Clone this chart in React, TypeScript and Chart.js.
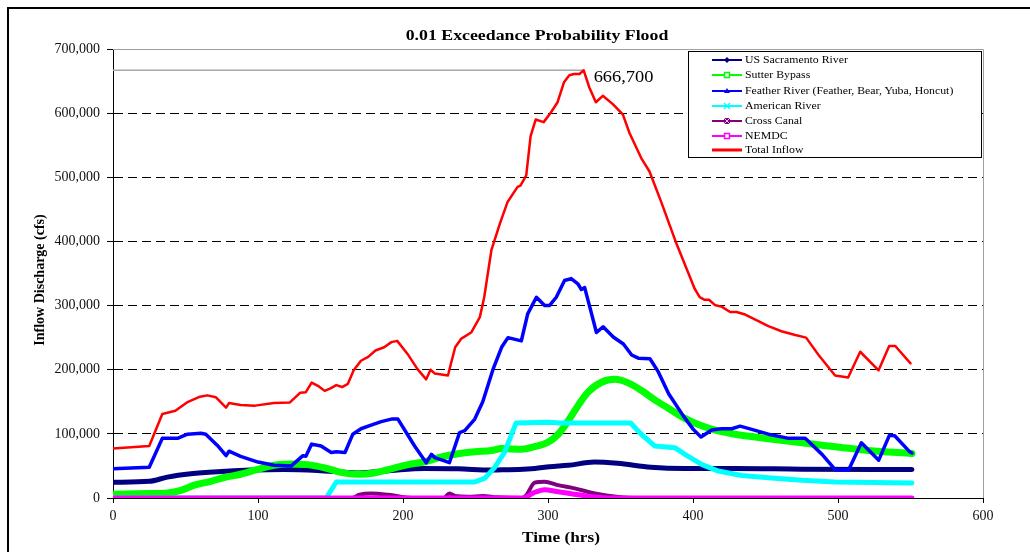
import React, { useEffect, useRef } from "react";
import { Chart, registerables } from "chart.js";

Chart.register(...registerables);

// ---------- text ----------
const CHART_TITLE = "0.01 Exceedance Probability Flood";
const X_TITLE = "Time (hrs)";
const Y_TITLE = "Inflow Discharge (cfs)";
const PEAK_LABEL = "666,700";

// ---------- axes ----------
const X_MIN = 0;
const X_MAX = 600;
const X_STEP = 100;
const Y_MIN = 0;
const Y_MAX = 700000;
const Y_STEP = 100000;

// ---------- series (hours, cfs) ----------
const sacHrs = [0, 25, 37.5, 53.7, 72, 95, 118, 141, 169, 192, 215, 238, 261, 268, 280, 291, 301, 314, 332, 348, 371, 394, 429, 475, 551];
const sacCfs = [24600, 26000, 32500, 37700, 41000, 43500, 44500, 43000, 39000, 43000, 46000, 45500, 43500, 44000, 44500, 46000, 48700, 51000, 56000, 54000, 48000, 46000, 46000, 45000, 44500];

const sutterHrs = [0, 25, 37.5, 46.8, 56, 67.5, 76.7, 88, 99.8, 111, 122.8, 134, 146, 157, 169, 180, 192, 203.5, 215, 226.5, 238, 249.5, 261, 268, 281.6, 290.8, 300, 306.9, 313.8, 320.7, 327.6, 336.9, 346, 355.3, 364.5, 373.7, 382.9, 394.4, 405.9, 417.4, 428.9, 451.9, 475, 498, 521, 551];
const sutterCfs = [6000, 7000, 8000, 12000, 20000, 26000, 32000, 37000, 44500, 51000, 53000, 52000, 47000, 40000, 37000, 39000, 45500, 52000, 56500, 64000, 69000, 72000, 74000, 77000, 76000, 80000, 87000, 99000, 120000, 144000, 165000, 180500, 185000, 179500, 167500, 153000, 140000, 124000, 112500, 104500, 99400, 92500, 86000, 80000, 74000, 69500];

const featherHrs = [0, 25, 34, 44.5, 51.4, 60.6, 64, 72, 78, 80, 88, 100, 111, 123, 131, 133, 137, 143.5, 150.5, 154, 160, 165.4, 171, 178, 185, 192, 196.5, 208, 216, 219.6, 222, 232, 239, 242.6, 249.5, 255, 262, 268, 272.4, 281.6, 286, 292, 297.7, 301, 305.7, 311.4, 316, 320.6, 323, 325.3, 328.8, 333.4, 338, 345, 352, 357.7, 362.3, 370.3, 376, 383.3, 393.3, 400.2, 405.5, 412.9, 419.8, 426.7, 432.5, 440.5, 452, 466, 477.4, 489, 498.2, 507.4, 516.1, 528.1, 535.5, 539.1, 549, 551];
const featherCfs = [45500, 48000, 93000, 93000, 99500, 101000, 99500, 82000, 66000, 73000, 65000, 56000, 51000, 50000, 66000, 65000, 84000, 81000, 71000, 72000, 71000, 99500, 108000, 113600, 119000, 123000, 123000, 81000, 55000, 68000, 63000, 55000, 102000, 105000, 123000, 150000, 200000, 235000, 250000, 245000, 287000, 313000, 300000, 300000, 313000, 339000, 342000, 334000, 325000, 328000, 298000, 258000, 267000, 251000, 240000, 223000, 218000, 217000, 197000, 162000, 128000, 107000, 95000, 106000, 108000, 108000, 112000, 107000, 99500, 93000, 93000, 68000, 44000, 44000, 86000, 59000, 98000, 97000, 73000, 70000];

const americanHrs = [0, 147, 154, 249.5, 256.5, 263, 270, 278, 300, 309, 357, 364.5, 373.7, 387.5, 394.4, 405.9, 417.4, 433.5, 452, 475, 498, 551];
const americanCfs = [0, 0, 25000, 25000, 31000, 47000, 71000, 117000, 118000, 117000, 117000, 99000, 81000, 78500, 68000, 52500, 42000, 35000, 31500, 27600, 25000, 23500];

const crossHrs = [0, 165, 170, 178, 190, 206, 228, 232, 236, 245, 255, 265, 282, 285, 290.8, 297.7, 306.9, 318.4, 332.3, 348.4, 360, 551];
const crossCfs = [0, 0, 5000, 7000, 5000, 0, 0, 7000, 3000, 2000, 3000, 1000, 0, 4000, 24000, 25500, 20000, 15000, 7000, 1500, 0, 0];

const nemdcHrs = [0, 283, 290, 297.7, 306, 318, 330, 344, 551];
const nemdcCfs = [0, 0, 8000, 13000, 10000, 6000, 2000, 0, 0];

const totalHrs = [0, 25, 34, 43, 51, 60, 65, 71, 78, 80, 88, 98, 111, 122, 129, 133, 137, 142, 146, 150, 154, 158, 162, 166, 171, 176, 181, 187, 192, 196, 203, 210, 216, 219, 222, 231, 233, 236, 240, 247, 253, 256, 261, 267, 272, 279, 281, 285, 288, 291.5, 297, 302, 306.6, 311, 314.7, 318, 321.7, 324.6, 328.5, 333, 337.8, 344.7, 351.6, 356.2, 364.3, 370, 378, 388, 396, 401, 404.6, 408, 411, 415, 420, 425.6, 430, 436, 443, 452, 461, 470.5, 478, 486.6, 498, 507, 515.3, 528, 535.3, 539.5, 550];
const totalCfs = [77000, 81000, 131000, 136000, 149000, 158000, 160000, 157000, 141000, 148000, 145000, 144000, 148000, 149000, 164000, 165000, 180000, 174000, 167000, 171000, 176000, 173000, 178000, 199000, 214000, 220000, 230000, 235000, 243000, 245000, 225000, 201000, 185000, 200000, 194000, 191000, 209000, 235000, 248000, 258000, 282000, 313000, 387000, 429000, 461000, 485000, 487000, 503000, 564000, 590000, 586000, 601000, 617000, 648000, 659000, 661000, 661000, 666700, 640000, 617000, 627000, 614000, 598000, 569000, 530000, 509000, 462000, 400000, 355000, 327000, 313000, 309000, 309000, 301000, 298000, 290000, 290000, 286000, 278000, 268000, 260000, 254000, 250000, 223000, 191000, 188000, 228000, 199000, 237000, 237000, 210000];

// peak reference line
const peakHrs = [0, 324.6];
const peakCfs = [666700, 666700];

// ---------- legend ----------
const legendNames = [
  "US Sacramento River",
  "Sutter Bypass",
  "Feather River (Feather, Bear, Yuba, Honcut)",
  "American River",
  "Cross Canal",
  "NEMDC",
  "Total Inflow",
];
const legendColors = ["#000080", "#00FF00", "#0000FF", "#00FFFF", "#800080", "#FF00FF", "#FF0000"];
const legendMarkers = ["diamond", "squareOpen", "triangle", "cross", "squareStar", "squareOpen", "none"];

const FONT = '"Liberation Serif", "Times New Roman", serif';

const toPts = (xs: number[], ys: number[]) => xs.map((x, i) => ({ x, y: ys[i] }));

const frameBorderPlugin = {
  id: "plotFrame",
  beforeDatasetsDraw(chart: any) {
    const { ctx, chartArea } = chart;
    ctx.save();
    ctx.strokeStyle = "#A0A0A0";
    ctx.lineWidth = 1;
    ctx.beginPath();
    ctx.moveTo(chartArea.left, chartArea.top + 0.5);
    ctx.lineTo(chartArea.right + 0.5, chartArea.top + 0.5);
    ctx.lineTo(chartArea.right + 0.5, chartArea.bottom);
    ctx.stroke();
    ctx.restore();
  },
};

const peakLabelPlugin = {
  id: "peakLabel",
  afterDatasetsDraw(chart: any) {
    const { ctx, scales } = chart;
    const px = scales.x.getPixelForValue(peakHrs[1]) + 10;
    const py = scales.y.getPixelForValue(peakCfs[1]) + 7;
    ctx.save();
    ctx.translate(px, py);
    ctx.scale(1.15, 1);
    ctx.font = `16px ${FONT}`;
    ctx.fillStyle = "#000";
    ctx.textBaseline = "middle";
    ctx.textAlign = "left";
    ctx.fillText(PEAK_LABEL, 0, 0);
    ctx.restore();
  },
};

function Marker({ kind, color }: { kind: string; color: string }) {
  const cx = 15;
  const cy = 5;
  if (kind === "diamond") return <polygon points={`${cx},${cy - 3} ${cx + 3},${cy} ${cx},${cy + 3} ${cx - 3},${cy}`} fill={color} />;
  if (kind === "squareOpen") return <rect x={cx - 2.5} y={cy - 2.5} width={5} height={5} fill="#fff" stroke={color} strokeWidth={1.5} />;
  if (kind === "triangle") return <polygon points={`${cx},${cy - 3} ${cx + 3},${cy + 2} ${cx - 3},${cy + 2}`} fill={color} />;
  if (kind === "cross")
    return (
      <g stroke={color} strokeWidth={1.5}>
        <line x1={cx - 3} y1={cy - 3} x2={cx + 3} y2={cy + 3} />
        <line x1={cx - 3} y1={cy + 3} x2={cx + 3} y2={cy - 3} />
      </g>
    );
  if (kind === "squareStar")
    return (
      <g>
        <rect x={cx - 3} y={cy - 3} width={6} height={6} fill={color} />
        <line x1={cx - 3} y1={cy - 3} x2={cx + 3} y2={cy + 3} stroke="#fff" strokeWidth={0.8} />
        <line x1={cx - 3} y1={cy + 3} x2={cx + 3} y2={cy - 3} stroke="#fff" strokeWidth={0.8} />
      </g>
    );
  return null;
}

export default function App() {
  const canvasRef = useRef<HTMLCanvasElement | null>(null);

  useEffect(() => {
    if (!canvasRef.current) return;
    const common = { pointRadius: 0, pointHoverRadius: 0, borderJoinStyle: "round" as const, borderCapStyle: "round" as const, fill: false };
    const chart = new Chart(canvasRef.current, {
      type: "line",
      data: {
        datasets: [
          { ...common, label: legendNames[6], data: toPts(totalHrs, totalCfs), borderColor: legendColors[6], borderWidth: 2.5, order: 0 },
          { ...common, label: legendNames[5], data: toPts(nemdcHrs, nemdcCfs), borderColor: legendColors[5], borderWidth: 5, order: 1, cubicInterpolationMode: "monotone" },
          { ...common, label: legendNames[4], data: toPts(crossHrs, crossCfs), borderColor: legendColors[4], borderWidth: 4, order: 2, cubicInterpolationMode: "monotone" },
          { ...common, label: legendNames[3], data: toPts(americanHrs, americanCfs), borderColor: legendColors[3], borderWidth: 5, order: 3 },
          { ...common, label: legendNames[2], data: toPts(featherHrs, featherCfs), borderColor: legendColors[2], borderWidth: 3.5, order: 4 },
          { ...common, label: legendNames[1], data: toPts(sutterHrs, sutterCfs), borderColor: legendColors[1], borderWidth: 7, order: 5, cubicInterpolationMode: "monotone" },
          { ...common, label: legendNames[0], data: toPts(sacHrs, sacCfs), borderColor: legendColors[0], borderWidth: 5, order: 6, cubicInterpolationMode: "monotone" },
          { ...common, label: "peak", data: toPts(peakHrs, peakCfs), borderColor: "#A8A8A8", borderWidth: 1.5, order: 10 },
        ],
      },
      options: {
        animation: false,
        responsive: false,
        maintainAspectRatio: false,
        layout: { padding: { left: 0, top: 49, right: 47, bottom: 0 } },
        plugins: { legend: { display: false }, tooltip: { enabled: false }, title: { display: false } },
        scales: {
          x: {
            type: "linear",
            min: X_MIN,
            max: X_MAX,
            ticks: { stepSize: X_STEP, font: { family: FONT, size: 14 }, color: "#111", padding: 5, maxRotation: 0 },
            grid: { drawOnChartArea: false, drawTicks: true, tickLength: 5, tickColor: "#000", color: "#000" },
            border: { color: "#000", width: 1 },
            afterFit: (s: any) => {
              s.height = 54;
            },
          },
          y: {
            type: "linear",
            min: Y_MIN,
            max: Y_MAX,
            ticks: {
              stepSize: Y_STEP,
              font: { family: FONT, size: 14 },
              color: "#111",
              padding: 7,
              callback: (v: any) => Number(v).toLocaleString("en-US"),
            },
            grid: { color: "#000", lineWidth: 1, tickLength: 6, tickColor: "#000", tickBorderDash: [] },
            border: { color: "#000", width: 1, dash: [9, 5] },
            afterFit: (s: any) => {
              s.width = 113;
            },
          },
        },
      },
      plugins: [frameBorderPlugin, peakLabelPlugin],
    } as any);
    return () => chart.destroy();
  }, []);

  const rowTops = [8, 23, 39, 54, 69, 84, 98];

  return (
    <div style={{ position: "absolute", left: 0, top: 0, width: 1030, height: 552, background: "#fff", overflow: "hidden" }}>
      <canvas ref={canvasRef} width={1030} height={552} style={{ position: "absolute", left: 0, top: 0, display: "block" }} />
      {/* outer frame */}
      <div style={{ position: "absolute", left: 7, top: 7, width: 1030, height: 552, borderLeft: "2px solid #000", borderTop: "2px solid #000", boxSizing: "border-box", pointerEvents: "none" }} />
      {/* title */}
      <div style={{ position: "absolute", left: 536.5, top: 35, transform: "translate(-50%,-50%) scaleX(1.186)", fontFamily: FONT, fontWeight: "bold", fontSize: 15, whiteSpace: "nowrap", lineHeight: 1 }}>
        {CHART_TITLE}
      </div>
      {/* x title */}
      <div style={{ position: "absolute", left: 561, top: 537, transform: "translate(-50%,-50%) scaleX(1.15)", fontFamily: FONT, fontWeight: "bold", fontSize: 15, whiteSpace: "nowrap", lineHeight: 1 }}>
        {X_TITLE}
      </div>
      {/* y title */}
      <div style={{ position: "absolute", left: 40, top: 280, transform: "translate(-50%,-50%) rotate(-90deg)", fontFamily: FONT, fontWeight: "bold", fontSize: 14, whiteSpace: "nowrap", lineHeight: 1 }}>
        {Y_TITLE}
      </div>
      {/* legend */}
      <div style={{ position: "absolute", left: 688, top: 51, width: 294, height: 107, border: "1px solid #000", background: "#fff", boxSizing: "border-box" }}>
        {legendNames.map((name, i) => (
          <div key={name} style={{ position: "absolute", left: 0, top: rowTops[i] - 6, height: 12, width: 290 }}>
            <svg width={30} height={10} style={{ position: "absolute", left: 23, top: 1 }}>
              <line x1={0} y1={5} x2={30} y2={5} stroke={legendColors[i]} strokeWidth={i === 6 ? 3 : 2} />
              <Marker kind={legendMarkers[i]} color={legendColors[i]} />
            </svg>
            <span style={{ position: "absolute", left: 56, top: 0, fontFamily: FONT, fontSize: 10, lineHeight: "12px", whiteSpace: "nowrap", transform: "scaleX(1.18)", transformOrigin: "left center" }}>
              {name}
            </span>
          </div>
        ))}
      </div>
    </div>
  );
}
